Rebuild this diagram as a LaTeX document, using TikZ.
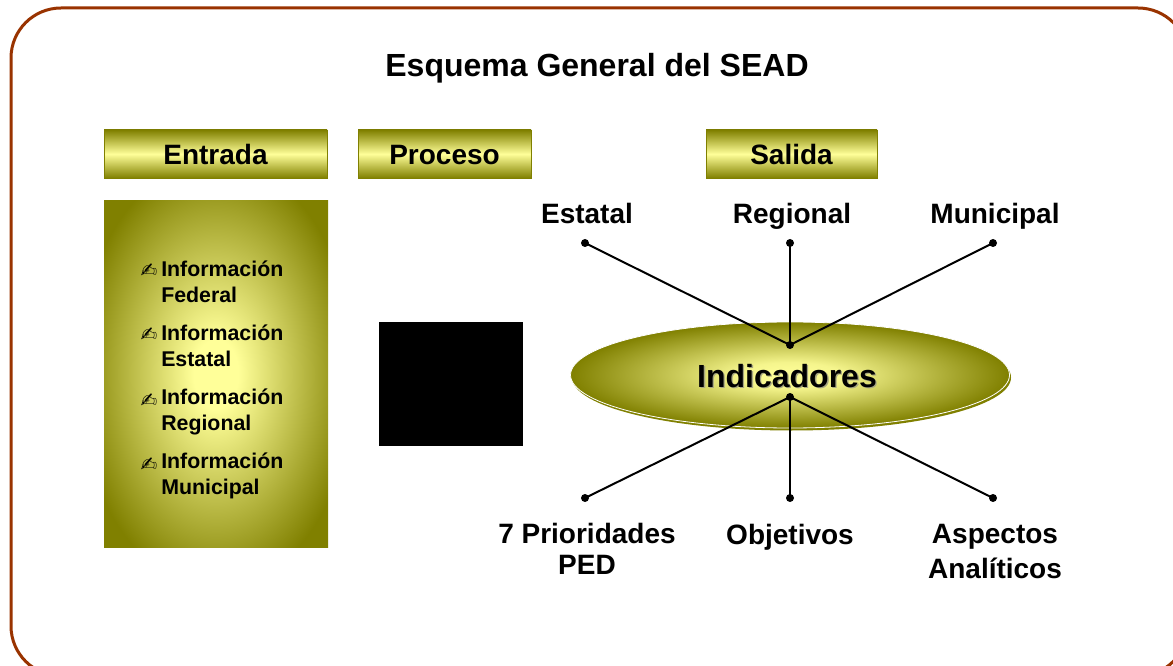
\documentclass[tikz,border=0pt]{standalone}
\usepackage{fontspec}
\setmainfont{Liberation Sans}
\newfontfamily\symfont{DejaVu Sans}
\usepackage{tikz}
\usetikzlibrary{shapes.geometric}
\usepackage{xcolor}

\definecolor{marco}{RGB}{153,51,0}
\definecolor{oliva}{RGB}{128,128,0}
\definecolor{amarillo}{RGB}{255,255,153}

\pgfdeclareradialshading{brillo}{\pgfpoint{0bp}{0bp}}{color(0bp)=(amarillo); color(5bp)=(amarillo); color(31bp)=(oliva); color(50bp)=(oliva)}
\pgfdeclareradialshading{brilloelipse}{\pgfpoint{0bp}{0bp}}{color(0bp)=(amarillo); color(6bp)=(amarillo!92!oliva); color(25bp)=(oliva); color(50bp)=(oliva)}

\tikzset{
  encabezado/.style={draw=oliva, line width=0.6pt, top color=oliva, bottom color=oliva, middle color=amarillo,
    minimum height=36pt, inner sep=0pt, text height=18pt, text depth=1.5pt, font=\fontsize{21}{25}\selectfont\bfseries},
  punto/.style={circle, fill=black, inner sep=0pt, minimum size=6pt},
  etiqueta/.style={inner sep=0pt, align=center, font=\fontsize{21}{24.75}\selectfont\bfseries},
  vineta/.style={inner sep=0pt, font=\symfont\fontsize{15}{17}\selectfont},
  info/.style={anchor=west, align=left, inner sep=0.75pt, font=\fontsize{16}{19.5}\selectfont\bfseries},
  conector/.style={line width=1.5pt}
}

\begin{document}
\begin{tikzpicture}[x=0.75pt,y=0.75pt,yscale=-1,xscale=1]
        \useasboundingbox (0,0) rectangle (1173,666);
        \clip (0,0) rectangle (1173,666);

        %Shape: Rounded Rect [id:marco]
        \draw [color=marco, line width=2.25pt, rounded corners=37.5pt] (11,8) rectangle (1188,676);

        % Text Node
        \node (titulo) [anchor=base, inner sep=0pt, font=\fontsize{24}{29}\selectfont\bfseries] at (597,77) {Esquema General del SEAD};

        %Shape: Rectangle [id:encabezados]
        \node (entrada) [encabezado, minimum width=167.25pt] at (215.5,154) {Entrada};
        \node (proceso) [encabezado, minimum width=129.75pt] at (444.5,154) {Proceso};
        \node (salida) [encabezado, minimum width=128.25pt] at (791.5,154) {Salida};

        %Shape: Rectangle [id:fuentes]
        \node (fuentes) [shading=brillo, minimum width=168pt, minimum height=259.5pt, inner sep=0pt] at (216,374) {};

        % Text Node
        \node (b1) [vineta] at (149,271) {✍};
        \node (i1) [info] at (160,282) {Información\\Federal};
        % Text Node
        \node (b2) [vineta] at (149,335) {✍};
        \node (i2) [info] at (160,346) {Información\\Estatal};
        % Text Node
        \node (b3) [vineta] at (149,401) {✍};
        \node (i3) [info] at (160,412) {Información\\Regional};
        % Text Node
        \node (b4) [vineta] at (149,465) {✍};
        \node (i4) [info] at (160,476) {Información\\Municipal};

        %Shape: Square [id:proceso]
        \node (caja) [fill=black, minimum width=108pt, minimum height=93pt, inner sep=0pt] at (451,384) {};

        %Shape: Ellipse [id:indicadores]
        \node (sombra) [ellipse, fill=oliva, minimum width=329.25pt, minimum height=79.5pt, inner sep=0pt] at (791.5,377.5) {};
        \node (indicadores) [ellipse, draw=white, line width=0.6pt, shading=brilloelipse, minimum width=329.25pt, minimum height=79.5pt, inner sep=0pt] at (790,375) {};
        \node (txtsombra) [text=oliva!60!black!50, inner sep=0pt, font=\fontsize{24}{29}\selectfont\bfseries] at (788.3,377.3) {Indicadores};
        \node (txtind) [inner sep=0pt, font=\fontsize{24}{29}\selectfont\bfseries] at (787,376) {Indicadores};

        % Dots
        \node (pest) [punto] at (585,243) {};
        \node (preg) [punto] at (790,243) {};
        \node (pmun) [punto] at (993,243) {};
        \node (parr) [punto] at (790,345) {};
        \node (paba) [punto] at (790,397) {};
        \node (pped) [punto] at (585,498) {};
        \node (pobj) [punto] at (790,498) {};
        \node (pasp) [punto] at (993,498) {};

        %Straight Lines
        \draw [conector] (pest.center) -- (parr.center);
        \draw [conector] (preg.center) -- (parr.center);
        \draw [conector] (pmun.center) -- (parr.center);
        \draw [conector] (paba.center) -- (pped.center);
        \draw [conector] (paba.center) -- (pobj.center);
        \draw [conector] (paba.center) -- (pasp.center);

        % Text Node
        \node (estatal) [etiqueta, anchor=base] at (587,223.5) {Estatal};
        \node (regional) [etiqueta, anchor=base] at (792,223.5) {Regional};
        \node (municipal) [etiqueta, anchor=base] at (995,223.5) {Municipal};
        \node (ped) [etiqueta, font=\fontsize{21}{23.25}\selectfont\bfseries] at (587,549) {7 Prioridades\\PED};
        \node (objetivos) [etiqueta, anchor=base] at (790,544) {Objetivos};
        \node (aspectos) [etiqueta, font=\fontsize{21}{26.25}\selectfont\bfseries] at (995,552) {Aspectos\\Analíticos};

\end{tikzpicture}
\end{document}
